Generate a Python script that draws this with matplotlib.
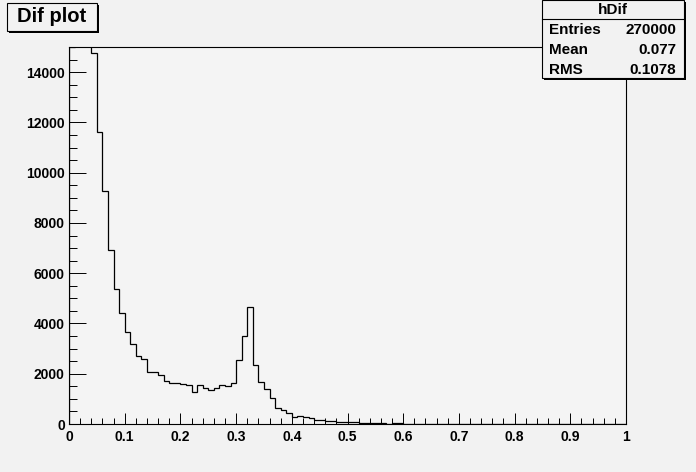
import matplotlib
matplotlib.use("Agg")
import matplotlib.pyplot as plt
import numpy as np
from matplotlib.patches import Rectangle

# histogram hDif: 100 bins on [0, 1], counts
# (first four bins are beyond the 15000 maximum and get clipped, as in ROOT)
bin_edges = np.linspace(0.0, 1.0, 101)
counts = [
    15000, 30000, 50000, 63000, 14780, 11600, 9290, 6910, 5370, 4400,
    3650, 3180, 2700, 2570, 2070, 2070, 1950, 1710, 1630, 1630,
    1580, 1540, 1270, 1540, 1420, 1340, 1420, 1540, 1500, 1620,
    2530, 3490, 4650, 2330, 1670, 1390, 1020, 640, 560, 420,
    270, 310, 280, 240, 150, 150, 120, 110, 90, 90,
    90, 70, 40, 30, 25, 25, 20, 15, 20, 20,
    15, 10, 10, 15, 15, 10, 5, 10, 5, 5,
    5, 5, 10, 5, 5, 5, 5, 5, 10, 5,
    5, 5, 5, 5, 5, 5, 5, 5, 5, 10,
    5, 10, 5, 5, 10, 5, 5, 5, 5, 5,
]
y_max = 15000

hist_name = "hDif"
title = "Dif plot"
stat_labels = ["Entries", "Mean", "RMS"]
stat_values = ["270000", "0.077", "0.1078"]

W, H = 696, 472
bg = "#f2f2f2"
font = ["Liberation Sans", "DejaVu Sans"]

fig = plt.figure(figsize=(W / 100, H / 100), dpi=100, facecolor=bg)

# frame from pixel 69..626 in x and 47..424 in y
ax = fig.add_axes([69 / W, (H - 424) / H, (626 - 69) / W, (424 - 47) / H])
ax.set_facecolor("#f4f4f4")

ax.stairs(counts, bin_edges, color="black", linewidth=0.9, baseline=0)

ax.set_xlim(0, 1)
ax.set_ylim(0, y_max)
ax.set_xticks(np.arange(0, 1.01, 0.1))
ax.set_xticks(np.arange(0, 1.001, 0.02), minor=True)
ax.set_yticks(np.arange(0, 14001, 2000))
ax.set_yticks(np.arange(0, 15001, 500), minor=True)
ax.set_xticklabels(["0", "0.1", "0.2", "0.3", "0.4", "0.5", "0.6", "0.7", "0.8", "0.9", "1"])
ax.set_yticklabels([str(v) for v in range(0, 14001, 2000)])

for spine in ax.spines.values():
    spine.set_linewidth(0.8)
ax.tick_params(axis="x", which="major", direction="in", length=8, width=0.7, pad=4)
ax.tick_params(axis="x", which="minor", direction="in", length=4.2, width=0.7)
ax.tick_params(axis="y", which="major", direction="in", length=12.3, width=0.7, pad=3)
ax.tick_params(axis="y", which="minor", direction="in", length=6.1, width=0.7)
for lab in ax.get_xticklabels() + ax.get_yticklabels():
    lab.set_fontfamily(font)
    lab.set_fontweight("bold")
    lab.set_fontsize(10)


def px_rect(x0, y0, x1, y1, **kw):
    # rectangle given in pixel coords measured from the top-left corner
    return Rectangle((x0 / W, 1 - y1 / H), (x1 - x0) / W, (y1 - y0) / H,
                     transform=fig.transFigure, **kw)


# title box with shadow
fig.patches.append(px_rect(9, 5, 99, 33, facecolor="black", edgecolor="none"))
fig.patches.append(px_rect(7, 3, 97, 31, facecolor=bg, edgecolor="black", linewidth=0.8))
fig.text(52 / W, 1 - 17 / H, title, ha="center", va="center", fontsize=14.5,
         fontweight="bold", family=font)

# stats box with shadow
fig.patches.append(px_rect(544, 2, 686, 80, facecolor="black", edgecolor="none", zorder=5))
fig.patches.append(px_rect(542, 0, 684, 78, facecolor=bg, edgecolor="black",
                           linewidth=0.8, zorder=6))
fig.add_artist(plt.Line2D([542 / W, 684 / W], [1 - 19 / H, 1 - 19 / H],
                          transform=fig.transFigure, color="black", linewidth=0.8, zorder=7))
fig.text(613 / W, 1 - 10 / H, hist_name, ha="center", va="center", fontsize=11,
         fontweight="bold", family=font, zorder=8)
for i, (lab, val) in enumerate(zip(stat_labels, stat_values)):
    yy = 1 - (30 + 20 * i) / H
    fig.text(549 / W, yy, lab, ha="left", va="center", fontsize=11,
             fontweight="bold", family=font, zorder=8)
    fig.text(676 / W, yy, val, ha="right", va="center", fontsize=11,
             fontweight="bold", family=font, zorder=8)

fig.savefig("out.png", dpi=100, facecolor=bg)
